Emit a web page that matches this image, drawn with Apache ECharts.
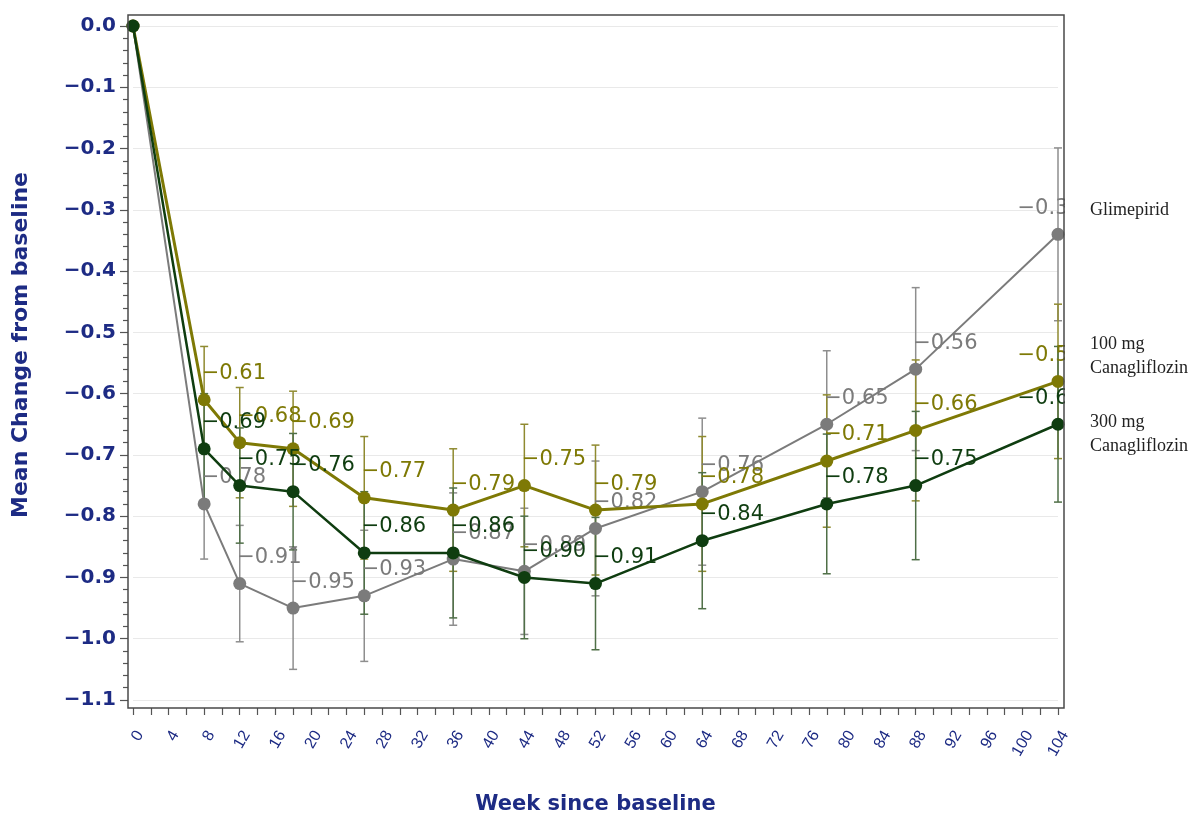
<!DOCTYPE html>
<html>
<head>
<meta charset="utf-8">
<script src="https://cdn.jsdelivr.net/npm/echarts@6/dist/echarts.min.js"></script>
<style>html,body{margin:0;padding:0;background:#fff;}#c{width:1195px;height:818px;}</style>
</head>
<body>
<div id="c"></div>
<script>
// ---- data ----
const weeks = [0, 8, 12, 18, 26, 36, 44, 52, 64, 78, 88, 104];
const seriesNames = ['Glimepirid', '100 mg\nCanagliflozin', '300 mg\nCanagliflozin'];
const glimepirid = [0, -0.78, -0.91, -0.95, -0.93, -0.87, -0.89, -0.82, -0.76, -0.65, -0.56, -0.34];
const cana100 = [0, -0.61, -0.68, -0.69, -0.77, -0.79, -0.75, -0.79, -0.78, -0.71, -0.66, -0.58];
const cana300 = [0, -0.69, -0.75, -0.76, -0.86, -0.86, -0.90, -0.91, -0.84, -0.78, -0.75, -0.65];
// half-widths of the error bars
const glimepiridErr = [null, 0.09, 0.095, 0.10, 0.107, 0.108, 0.103, 0.11, 0.12, 0.12, 0.133, 0.141];
const cana100Err = [null, 0.087, 0.09, 0.094, 0.10, 0.10, 0.10, 0.106, 0.11, 0.108, 0.115, 0.126];
const cana300Err = [null, 0.09, 0.094, 0.095, 0.10, 0.106, 0.10, 0.108, 0.111, 0.114, 0.121, 0.127];
const xTickLabels = [0,4,8,12,16,20,24,28,32,36,40,44,48,52,56,60,64,68,72,76,80,84,88,92,96,100,104];
const yTickLabels = [0, -0.1, -0.2, -0.3, -0.4, -0.5, -0.6, -0.7, -0.8, -0.9, -1.0, -1.1];

// ---- styling ----
const NAVY = '#1d2b84';
const FONT = "'Liberation Sans', Arial, sans-serif";
const WIDE = "'DejaVu Sans', 'Liberation Sans', sans-serif";
const colors = ['#7b7b7b', '#7e7905', '#0f3d10'];
const errColors = ['#8e8e8e', '#8f8a30', '#4f6f47'];
const lineWidths = [2, 3, 2.5];

const fmt = v => (v < 0 ? '\u2212' : '') + Math.abs(v).toFixed(2);

const values = [glimepirid, cana100, cana300];
const errs = [glimepiridErr, cana100Err, cana300Err];
const last = weeks.length - 1;

const series = [];
values.forEach((vals, s) => {
  // error bars
  series.push({
    type: 'custom',
    z: 1,
    silent: true,
    data: weeks.map((w, i) => errs[s][i] == null ? null : [w, vals[i] - errs[s][i], vals[i] + errs[s][i]]).filter(d => d),
    renderItem: function (params, api) {
      const x = api.value(0);
      const lo = api.coord([x, api.value(1)]);
      const hi = api.coord([x, api.value(2)]);
      const cw = 4;
      const st = { stroke: errColors[s], lineWidth: 1.5, fill: 'none' };
      return {
        type: 'group',
        children: [
          { type: 'line', shape: { x1: lo[0], y1: lo[1], x2: hi[0], y2: hi[1] }, style: st },
          { type: 'line', shape: { x1: lo[0] - cw, y1: lo[1], x2: lo[0] + cw, y2: lo[1] }, style: st },
          { type: 'line', shape: { x1: hi[0] - cw, y1: hi[1], x2: hi[0] + cw, y2: hi[1] }, style: st }
        ]
      };
    }
  });
  // means
  series.push({
    type: 'line',
    name: seriesNames[s],
    z: 3 + s,
    symbol: 'circle',
    symbolSize: 13,
    lineStyle: { color: colors[s], width: lineWidths[s] },
    itemStyle: { color: colors[s] },
    label: {
      show: true,
      position: [4, -30],
      color: colors[s],
      fontSize: 21,
      fontFamily: WIDE,
      formatter: p => fmt(p.value[1])
    },
    data: weeks.map((w, i) => {
      const item = { value: [w, vals[i]] };
      if (i === 0) item.label = { show: false };
      if (i === last) item.label = { position: [-34, -30] };
      return item;
    })
  });
});

const chart = echarts.init(document.getElementById('c'));
chart.setOption({
  animation: false,
  backgroundColor: '#fff',
  grid: { left: 133, right: 137, top: 26, bottom: 118, outerBoundsMode: 'none', containLabel: false },
  xAxis: {
    type: 'value',
    min: 0, max: 104, interval: 4,
    offset: 8,
    name: 'Week since baseline',
    nameLocation: 'middle',
    nameGap: 86,
    nameTextStyle: { color: NAVY, fontSize: 21, fontWeight: 'bold', fontFamily: WIDE },
    axisLine: { show: false, onZero: false },
    axisTick: { show: true, length: 7, lineStyle: { color: '#555', width: 1.2 } },
    minorTick: { show: true, splitNumber: 2, length: 7, lineStyle: { color: '#555', width: 1.2 } },
    axisLabel: {
      color: NAVY, fontSize: 16, fontFamily: FONT, rotate: 60, margin: 20, verticalAlign: 'top',
      formatter: v => xTickLabels.indexOf(v) >= 0 ? String(v) : ''
    },
    splitLine: { show: false }
  },
  yAxis: {
    type: 'value',
    min: -1.1, max: 0, interval: 0.1,
    offset: 5,
    name: 'Mean Change from baseline',
    nameLocation: 'middle',
    nameGap: 96,
    nameTextStyle: { color: NAVY, fontSize: 22, fontWeight: 'bold', fontFamily: WIDE, padding: [0, 0, 0, 36] },
    axisLine: { show: false, onZero: false },
    axisTick: { show: true, length: 8, lineStyle: { color: '#555', width: 1.2 } },
    minorTick: { show: true, splitNumber: 5, length: 5, lineStyle: { color: '#555', width: 1.2 } },
    axisLabel: {
      color: NAVY, fontSize: 20, fontWeight: 'bold', fontFamily: WIDE, margin: 12,
      formatter: v => {
        const t = yTickLabels.find(y => Math.abs(y - v) < 1e-6);
        if (t === undefined) return '';
        return (t < 0 ? '\u2212' : '') + Math.abs(t).toFixed(1);
      }
    },
    splitLine: { show: true, lineStyle: { color: '#e9e9e9', width: 1.2 } }
  },
  series: series,
  graphic: [
    { type: 'rect', z: 100, silent: true, shape: { x: 1065, y: 100, width: 22, height: 400 }, style: { fill: '#fff' } },
    { type: 'rect', z: 101, silent: true, shape: { x: 128, y: 15, width: 936, height: 693 }, style: { fill: 'none', stroke: '#4a4a4a', lineWidth: 1.5 } },
    { type: 'text', z: 101, x: 1090, y: 210, style: { text: seriesNames[0], fill: '#222', font: "18px 'Liberation Serif', 'Times New Roman', serif", verticalAlign: 'middle' } },
    { type: 'text', z: 101, x: 1090, y: 356, style: { text: seriesNames[1], fill: '#222', font: "18px 'Liberation Serif', 'Times New Roman', serif", verticalAlign: 'middle', lineHeight: 24 } },
    { type: 'text', z: 101, x: 1090, y: 434, style: { text: seriesNames[2], fill: '#222', font: "18px 'Liberation Serif', 'Times New Roman', serif", verticalAlign: 'middle', lineHeight: 24 } }
  ]
});
</script>
</body>
</html>
